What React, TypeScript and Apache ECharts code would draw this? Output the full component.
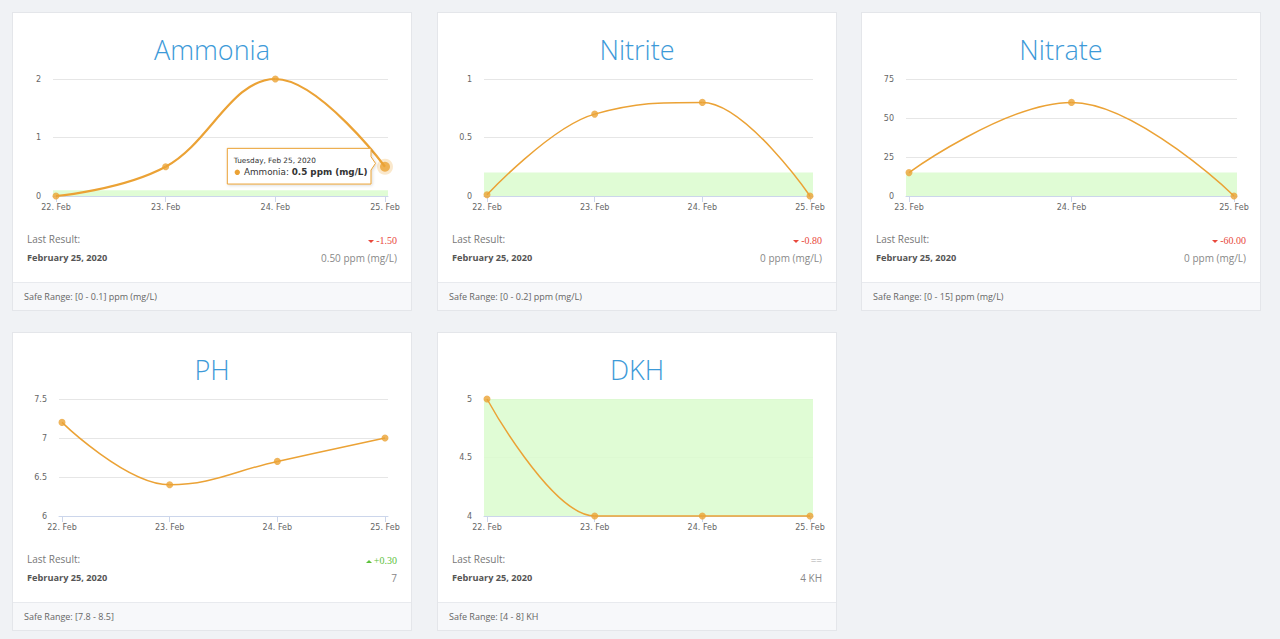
import React, { useEffect, useRef } from "react";
import * as echarts from "echarts";

// ---- data ----
const ammoniaDays = ["22. Feb", "23. Feb", "24. Feb", "25. Feb"];
const ammoniaValues = [0, 0.5, 2, 0.5];
const ammoniaAxis = { min: 0, max: 2, interval: 1 };
const ammoniaSafe = [0, 0.1];

const nitriteDays = ["22. Feb", "23. Feb", "24. Feb", "25. Feb"];
const nitriteValues = [0.01, 0.7, 0.8, 0];
const nitriteAxis = { min: 0, max: 1, interval: 0.5 };
const nitriteSafe = [0, 0.2];

const nitrateDays = ["23. Feb", "24. Feb", "25. Feb"];
const nitrateValues = [15, 60, 0];
const nitrateAxis = { min: 0, max: 75, interval: 25 };
const nitrateSafe = [0, 15];

const phDays = ["22. Feb", "23. Feb", "24. Feb", "25. Feb"];
const phValues = [7.2, 6.4, 6.7, 7];
const phAxis = { min: 6, max: 7.5, interval: 0.5 };
const phSafe = [7.8, 8.5];

const dkhDays = ["22. Feb", "23. Feb", "24. Feb", "25. Feb"];
const dkhValues = [5, 4, 4, 4];
const dkhAxis = { min: 4, max: 5, interval: 0.5 };
const dkhSafe = [4, 8];

const titles = ["Ammonia", "Nitrite", "Nitrate", "PH", "DKH"];
const lastLabels = ["0.50 ppm (mg/L)", "0 ppm (mg/L)", "0 ppm (mg/L)", "7", "4 KH"];
const safeLabels = [
  "Safe Range: [0 - 0.1] ppm (mg/L)",
  "Safe Range: [0 - 0.2] ppm (mg/L)",
  "Safe Range: [0 - 15] ppm (mg/L)",
  "Safe Range: [7.8 - 8.5]",
  "Safe Range: [4 - 8] KH",
];
const lastDate = "February 25, 2020";
const hoverDate = "Tuesday, Feb 25, 2020";
const hoverUnit = "ppm (mg/L)";

// ---- styling / layout ----
const ORANGE = "#eba235";
const BAND = "rgba(218,251,206,0.85)";
const AXIS_FONT = "DejaVu Sans";
const UI_FONT = "'Open Sans', sans-serif";
const CARD_W = 400;
const CARD_H = 299;
const CHART_H = 220;
const PLOT_TOP = 67;
const PLOT_BOTTOM = 184;
const PLOT_RIGHT = 376;
const cardLefts = [12, 437, 861];
const cardTops = [12, 332];
const plotLefts = [41, 47, 45, 47, 47];

type Spec = {
  title: string;
  days: string[];
  values: number[];
  axis: { min: number; max: number; interval: number };
  safe: number[];
  last: string;
  safeText: string;
  hovered?: number;
};

const specs: Spec[] = [
  { title: titles[0], days: ammoniaDays, values: ammoniaValues, axis: ammoniaAxis, safe: ammoniaSafe, last: lastLabels[0], safeText: safeLabels[0], hovered: 3 },
  { title: titles[1], days: nitriteDays, values: nitriteValues, axis: nitriteAxis, safe: nitriteSafe, last: lastLabels[1], safeText: safeLabels[1] },
  { title: titles[2], days: nitrateDays, values: nitrateValues, axis: nitrateAxis, safe: nitrateSafe, last: lastLabels[2], safeText: safeLabels[2] },
  { title: titles[3], days: phDays, values: phValues, axis: phAxis, safe: phSafe, last: lastLabels[3], safeText: safeLabels[3] },
  { title: titles[4], days: dkhDays, values: dkhValues, axis: dkhAxis, safe: dkhSafe, last: lastLabels[4], safeText: safeLabels[4] },
];

// Spline control points (pixel space): each inner point gets a tangent through it,
// flattened where it would create a false extreme.
function splineControls(pts: number[][]) {
  const sm = 1.5;
  const den = sm + 1;
  const L: number[][] = [];
  const R: number[][] = [];
  pts.forEach((p, i) => {
    const prev = pts[i - 1];
    const next = pts[i + 1];
    if (!prev || !next) {
      L[i] = p;
      R[i] = p;
      return;
    }
    const lx = (sm * p[0] + prev[0]) / den;
    let ly = (sm * p[1] + prev[1]) / den;
    const rx = (sm * p[0] + next[0]) / den;
    let ry = (sm * p[1] + next[1]) / den;
    let corr = 0;
    if (rx !== lx) corr = ((ry - ly) * (rx - p[0])) / (rx - lx) + p[1] - ry;
    ly += corr;
    ry += corr;
    if (ly > prev[1] && ly > p[1]) {
      ly = Math.max(prev[1], p[1]);
      ry = 2 * p[1] - ly;
    } else if (ly < prev[1] && ly < p[1]) {
      ly = Math.min(prev[1], p[1]);
      ry = 2 * p[1] - ly;
    }
    if (ry > next[1] && ry > p[1]) {
      ry = Math.max(next[1], p[1]);
      ly = 2 * p[1] - ry;
    } else if (ry < next[1] && ry < p[1]) {
      ry = Math.min(next[1], p[1]);
      ly = 2 * p[1] - ry;
    }
    L[i] = [lx, ly];
    R[i] = [rx, ry];
  });
  return { L, R };
}

function buildOption(spec: Spec, left: number) {
  const n = spec.values.length;
  const gridW = PLOT_RIGHT - left;
  const pad = ((n - 1) * 3) / (gridW - 6);
  const pts = spec.values.map((v, i) => [i, v]);
  const lo = Math.max(spec.safe[0], spec.axis.min);
  const hi = Math.min(spec.safe[1], spec.axis.max);
  const hovered = spec.hovered;
  const lineWidth = hovered !== undefined ? 2.2 : 1.5;
  const series: any[] = [
    {
      type: "scatter",
      data: pts,
      symbolSize: 0,
      silent: true,
      z: 1,
      markArea:
        lo < hi
          ? { silent: true, itemStyle: { color: BAND }, data: [[{ yAxis: lo }, { yAxis: hi }]] }
          : undefined,
    },
    {
      type: "custom",
      data: pts.slice(0, n - 1),
      encode: { x: 0, y: 1 },
      silent: true,
      z: 4,
      renderItem: (params: any, api: any) => {
        const px = pts.map((p) => api.coord(p));
        const { L, R } = splineControls(px);
        const i = params.dataIndex;
        return {
          type: "bezierCurve",
          shape: {
            x1: px[i][0], y1: px[i][1],
            cpx1: R[i][0], cpy1: R[i][1],
            cpx2: L[i + 1][0], cpy2: L[i + 1][1],
            x2: px[i + 1][0], y2: px[i + 1][1],
          },
          style: { stroke: ORANGE, lineWidth, fill: "none" },
        };
      },
    },
    {
      type: "scatter",
      data: pts.map((p, i) => (i === hovered ? { value: p, symbolSize: 10 } : p)),
      symbolSize: 7,
      itemStyle: { color: ORANGE },
      silent: true,
      z: 6,
    },
  ];
  if (hovered !== undefined) {
    series.push({
      type: "scatter",
      data: [pts[hovered]],
      symbolSize: 16,
      itemStyle: { color: ORANGE, opacity: 0.25 },
      silent: true,
      z: 5,
    });
  }
  return {
    animation: false,
    grid: { left, right: CARD_W - PLOT_RIGHT, top: PLOT_TOP, bottom: CHART_H - PLOT_BOTTOM },
    xAxis: {
      type: "value",
      min: -pad,
      max: n - 1 + pad,
      z: 3,
      splitLine: { show: false },
      axisLine: { show: true, onZero: false, lineStyle: { color: "#ccd6eb", width: 1 } },
      axisTick: {
        show: true,
        length: 6,
        customValues: spec.days.map((_, i) => i),
        lineStyle: { color: "#ccd6eb" },
      },
      axisLabel: {
        customValues: spec.days.map((_, i) => i),
        formatter: (v: number) => spec.days[Math.round(v)],
        fontFamily: AXIS_FONT,
        fontSize: 8,
        color: "#666",
        margin: 7,
      },
    },
    yAxis: {
      type: "value",
      min: spec.axis.min,
      max: spec.axis.max,
      interval: spec.axis.interval,
      axisLine: { show: false },
      axisTick: { show: false },
      splitLine: { lineStyle: { color: "#e6e6e6", width: 1 } },
      axisLabel: { fontFamily: AXIS_FONT, fontSize: 8, color: "#666", margin: 12 },
    },
    series,
  };
}

function tooltipGraphic(spec: Spec, p: number[]) {
  const h = spec.hovered as number;
  const [px, py] = p;
  const bx = px - 157.7;
  const by = py - 18.4;
  const bw = 143.7;
  const bh = 35.7;
  const right = bx + bw;
  return [
    {
      type: "polygon",
      z: 20,
      shape: {
        points: [
          [bx, by],
          [right, by],
          [right, py - 10],
          [right + 4.5, py - 3.4],
          [right, py + 3.3],
          [right, by + bh],
          [bx, by + bh],
        ],
      },
      style: {
        fill: "rgba(255,255,255,0.96)",
        stroke: ORANGE,
        lineWidth: 1,
        shadowBlur: 3,
        shadowOffsetX: 1,
        shadowOffsetY: 1,
        shadowColor: "rgba(0,0,0,0.15)",
      },
    },
    {
      type: "text",
      z: 21,
      x: bx + 6.5,
      y: py - 6,
      style: { text: hoverDate, fontFamily: AXIS_FONT, fontSize: 7.3, fill: "#333", verticalAlign: "middle" },
    },
    {
      type: "circle",
      z: 21,
      shape: { cx: bx + 10, cy: py + 5.6, r: 2.7 },
      style: { fill: ORANGE },
    },
    {
      type: "text",
      z: 21,
      x: bx + 16.7,
      y: py + 5.6,
      style: {
        text: `{a|${spec.title}: }{b|${spec.values[h]} ${hoverUnit}}`,
        verticalAlign: "middle",
        rich: {
          a: { fontFamily: AXIS_FONT, fontSize: 8.8, fill: "#333" },
          b: { fontFamily: AXIS_FONT, fontSize: 8.8, fontWeight: "bold", fill: "#333" },
        },
      },
    },
  ];
}

function Chart({ spec, left }: { spec: Spec; left: number }) {
  const ref = useRef<HTMLDivElement>(null);
  useEffect(() => {
    if (!ref.current) return;
    const chart = echarts.init(ref.current, undefined, { renderer: "svg" });
    chart.setOption(buildOption(spec, left) as any);
    if (spec.hovered !== undefined) {
      const p = chart.convertToPixel({ xAxisIndex: 0, yAxisIndex: 0 }, [
        spec.hovered,
        spec.values[spec.hovered],
      ]) as number[];
      chart.setOption({ graphic: tooltipGraphic(spec, p) } as any);
    }
    return () => chart.dispose();
  }, [spec, left]);
  return (
    <div
      ref={ref}
      style={{ position: "absolute", left: -1, top: -1, width: CARD_W, height: CHART_H }}
    />
  );
}

function Change({ values }: { values: number[] }) {
  const n = values.length;
  const d = values[n - 1] - values[n - 2];
  const rounded = Math.round(d * 100) / 100;
  if (rounded === 0) {
    return <span style={{ color: "#aaa" }}>==</span>;
  }
  const up = rounded > 0;
  const color = up ? "#5dc13b" : "#e8483c";
  const caret = up
    ? { borderBottom: `3px solid ${color}` }
    : { borderTop: `3px solid ${color}` };
  return (
    <span style={{ color }}>
      <span
        style={{
          display: "inline-block",
          width: 0,
          height: 0,
          borderLeft: "3px solid transparent",
          borderRight: "3px solid transparent",
          marginRight: 2,
          verticalAlign: "middle",
          ...caret,
        }}
      />
      {(up ? "+" : "") + rounded.toFixed(2)}
    </span>
  );
}

function Card({ spec, index }: { spec: Spec; index: number }) {
  const col = index % 3;
  const row = Math.floor(index / 3);
  return (
    <div
      style={{
        position: "absolute",
        left: cardLefts[col],
        top: cardTops[row],
        width: CARD_W,
        height: CARD_H,
        boxSizing: "border-box",
        background: "#fff",
        border: "1px solid #e4e6ea",
        fontFamily: UI_FONT,
      }}
    >
      <Chart spec={spec} left={plotLefts[index]} />
      <div
        style={{
          position: "absolute",
          left: 0,
          right: 0,
          top: 23,
          height: 28,
          lineHeight: "28px",
          textAlign: "center",
          fontSize: 27,
          fontWeight: 300,
          color: "#3d9ad8",
        }}
      >
        {spec.title}
      </div>
      <div style={{ position: "absolute", left: 14, top: 219, lineHeight: "14px", fontSize: 10, color: "#777" }}>
        Last Result:
      </div>
      <div
        style={{
          position: "absolute",
          right: 14,
          top: 221,
          lineHeight: "14px",
          fontSize: 10,
          fontFamily: "'Liberation Serif', serif",
        }}
      >
        <Change values={spec.values} />
      </div>
      <div
        style={{ position: "absolute", left: 14, top: 238, lineHeight: "14px", fontSize: 9.2, fontWeight: 700, color: "#555" }}
      >
        {lastDate}
      </div>
      <div style={{ position: "absolute", right: 14, top: 238, lineHeight: "14px", fontSize: 10, color: "#888" }}>
        {spec.last}
      </div>
      <div
        style={{
          position: "absolute",
          left: 0,
          right: 0,
          bottom: 0,
          height: 27,
          background: "#f7f8fa",
          borderTop: "1px solid #e8eaee",
          fontSize: 9,
          lineHeight: "27px",
          paddingLeft: 11,
          color: "#666",
        }}
      >
        {spec.safeText}
      </div>
    </div>
  );
}

export default function App() {
  return (
    <div
      style={{
        position: "fixed",
        left: 0,
        top: 0,
        width: 1280,
        height: 639,
        background: "#f0f2f5",
        overflow: "hidden",
      }}
    >
      {specs.map((s, i) => (
        <Card key={s.title} spec={s} index={i} />
      ))}
    </div>
  );
}
